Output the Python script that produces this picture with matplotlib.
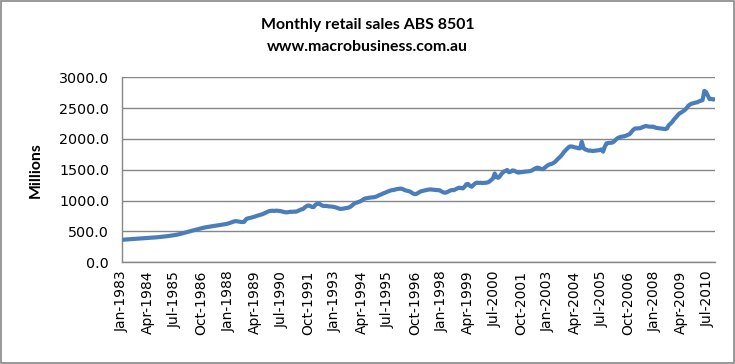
import matplotlib
matplotlib.use("Agg")
import matplotlib.pyplot as plt
from matplotlib.patches import Rectangle
from matplotlib.ticker import FuncFormatter, MultipleLocator

title_lines = ["Monthly retail sales ABS 8501", "www.macrobusiness.com.au"]
y_label = "Millions"
start_year = 1983
month_names = ["Jan", "Feb", "Mar", "Apr", "May", "Jun",
               "Jul", "Aug", "Sep", "Oct", "Nov", "Dec"]

# Monthly values, Jan-1983 .. Nov-2010
sales = [
    365, 367, 369, 372, 374, 376, 378, 380, 382, 384, 386, 388,            # 1983
    390, 392, 394, 396, 398, 400, 402, 404, 406, 409, 412, 415,            # 1984
    418, 421, 425, 429, 433, 437, 442, 447, 453, 460, 468, 476,            # 1985
    484, 492, 500, 508, 515, 522, 530, 538, 546, 553, 560, 566,            # 1986
    571, 576, 580, 586, 590, 594, 598, 603, 608, 612, 617, 622,            # 1987
    630, 640, 650, 660, 668, 665, 660, 655, 653, 657, 700, 712,            # 1988
    718, 725, 733, 742, 752, 762, 770, 778, 790, 805, 818, 830,            # 1989
    834, 836, 833, 838, 835, 832, 826, 818, 812, 810, 815, 820,            # 1990
    818, 822, 820, 830, 845, 858, 862, 888, 910, 922, 915, 898,            # 1991
    895, 930, 950, 955, 935, 918, 912, 915, 910, 905, 905, 900,            # 1992
    895, 885, 875, 865, 868, 872, 878, 882, 890, 905, 930, 955,            # 1993
    965, 975, 985, 1000, 1020, 1035, 1040, 1045, 1050, 1052, 1055, 1062,   # 1994
    1075, 1090, 1100, 1115, 1125, 1138, 1150, 1160, 1170, 1172, 1180, 1188,  # 1995
    1192, 1195, 1190, 1175, 1165, 1158, 1150, 1135, 1115, 1105, 1110, 1128,  # 1996
    1145, 1155, 1162, 1170, 1175, 1180, 1182, 1178, 1175, 1172, 1170, 1168,  # 1997
    1150, 1135, 1128, 1135, 1150, 1165, 1172, 1170, 1185, 1200, 1210, 1205,  # 1998
    1198, 1225, 1265, 1270, 1240, 1225, 1255, 1280, 1292, 1288, 1290, 1286,  # 1999
    1288, 1290, 1295, 1310, 1335, 1360, 1440, 1380, 1370, 1400, 1440, 1470,  # 2000
    1480, 1497, 1460, 1470, 1490, 1485, 1470, 1455, 1458, 1462, 1465, 1470,  # 2001
    1472, 1475, 1480, 1490, 1510, 1525, 1535, 1528, 1515, 1510, 1530, 1555,  # 2002
    1575, 1590, 1595, 1610, 1630, 1660, 1690, 1715, 1750, 1790, 1820, 1850,  # 2003
    1875, 1880, 1872, 1865, 1860, 1850, 1848, 1955, 1850, 1830, 1820, 1810,  # 2004
    1812, 1805, 1808, 1810, 1815, 1820, 1830, 1795, 1880, 1930, 1935, 1938,  # 2005
    1940, 1955, 1985, 2010, 2025, 2035, 2040, 2045, 2055, 2068, 2080, 2115,  # 2006
    2150, 2170, 2172, 2175, 2175, 2190, 2200, 2210, 2205, 2200, 2198, 2200,  # 2007
    2190, 2180, 2175, 2172, 2168, 2165, 2160, 2170, 2225, 2250, 2280, 2320,  # 2008
    2350, 2385, 2415, 2430, 2450, 2470, 2500, 2540, 2560, 2575, 2580, 2590,  # 2009
    2595, 2610, 2620, 2630, 2780, 2760, 2700, 2645, 2650, 2640, 2645,        # 2010
]

labels = [f"{month_names[i % 12]}-{start_year + i // 12}" for i in range(len(sales))]
x = list(range(len(sales)))
tick_step = 15

fig = plt.figure(figsize=(7.35, 3.64), dpi=100)
fig.patch.set_facecolor("white")
fig.patches.append(Rectangle((0.001, 0.002), 0.997, 0.995, transform=fig.transFigure,
                             fill=False, edgecolor="#878787", linewidth=1.2))

ax = fig.add_axes([0.1656, 0.2794, 0.9728 - 0.1656, 0.7876 - 0.2794])
ax.plot(x, sales, color="#4A7EBB", linewidth=3.0, solid_capstyle="round",
        solid_joinstyle="round", zorder=3)

ax.set_xlim(0, len(sales) - 1)
ax.set_ylim(0, 3000)
ax.yaxis.set_major_locator(MultipleLocator(500))
ax.yaxis.set_major_formatter(FuncFormatter(lambda v, p: f"{v:.1f}"))
ax.set_xticks(x[::tick_step])
ax.set_xticklabels(labels[::tick_step], rotation=90, fontsize=10, family="DejaVu Sans")
for lab in ax.get_yticklabels():
    lab.set_fontsize(10.3)
ax.tick_params(axis="both", length=0, colors="black")
ax.tick_params(axis="x", pad=6)
ax.tick_params(axis="y", pad=9)
ax.grid(axis="y", color="#868686", linewidth=1.0)
ax.set_axisbelow(True)
for s in ["top", "right"]:
    ax.spines[s].set_visible(False)
for s in ["left", "bottom"]:
    ax.spines[s].set_color("#868686")
    ax.spines[s].set_linewidth(1.0)

ax.set_ylabel(y_label, fontsize=11.3, fontweight="bold", family="Lato", labelpad=12)

fig.text(0.5, 1 - 25 / 364, title_lines[0], ha="center", va="center",
         fontsize=11.4, fontweight="bold", family="Lato")
fig.text(0.5, 1 - 47 / 364, title_lines[1], ha="center", va="center",
         fontsize=11.4, fontweight="bold", family="Lato")

fig.savefig("out.png", dpi=100, facecolor="white")
